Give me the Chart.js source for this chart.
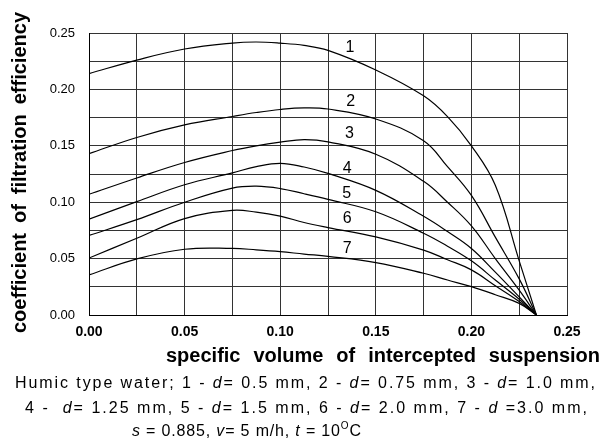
<!DOCTYPE html>
<html>
<head>
<meta charset="utf-8">
<title>Coefficient of filtration efficiency</title>
<script src="https://cdn.jsdelivr.net/npm/chart.js@4.4.1/dist/chart.umd.min.js"></script>
<style>
  html, body { margin: 0; padding: 0; background: #fff; }
  #wrap { width: 603px; height: 448px; }
</style>
</head>
<body>
<div id="wrap"><canvas id="chart" width="603" height="448"></canvas></div>
<script>
// specific volume of intercepted suspension (x)
const volume = [0, 0.025, 0.05, 0.075, 0.0875, 0.1, 0.1125, 0.125, 0.15, 0.175, 0.1875, 0.2, 0.2125, 0.225, 0.234];

// coefficient of filtration efficiency for curves 1..7
const curve1 = [0.214, 0.226, 0.2358, 0.2411, 0.242, 0.241, 0.239, 0.2346, 0.2172, 0.1943, 0.1759, 0.150, 0.115, 0.048, 0];
const curve2 = [0.143, 0.1574, 0.1685, 0.176, 0.1795, 0.1822, 0.1836, 0.1826, 0.1738, 0.1545, 0.1315, 0.106, 0.069, 0.032, 0];
const curve3 = [0.107, 0.1215, 0.1352, 0.1458, 0.150, 0.1532, 0.1555, 0.1535, 0.1425, 0.1185, 0.100, 0.079, 0.050, 0.022, 0];
const curve4 = [0.085, 0.1005, 0.1155, 0.126, 0.1315, 0.1345, 0.1312, 0.1255, 0.1105, 0.0875, 0.074, 0.059, 0.038, 0.016, 0];
const curve5 = [0.0705, 0.0845, 0.100, 0.1125, 0.1142, 0.1121, 0.1075, 0.1025, 0.0915, 0.0725, 0.061, 0.048, 0.031, 0.014, 0];
const curve6 = [0.0505, 0.068, 0.0855, 0.0928, 0.0912, 0.0876, 0.082, 0.0775, 0.0692, 0.0575, 0.049, 0.040, 0.026, 0.012, 0];
const curve7 = [0.0355, 0.0497, 0.0583, 0.059, 0.0578, 0.0562, 0.054, 0.052, 0.0465, 0.037, 0.031, 0.0251, 0.018, 0.0103, 0];

// curve numbers and where they sit (data coordinates)
const curveNames = ['1', '2', '3', '4', '5', '6', '7'];
const labelX = [0.1365, 0.1369, 0.1362, 0.1351, 0.1348, 0.1351, 0.1351];
const labelY = [0.2367, 0.1891, 0.1605, 0.1301, 0.1073, 0.0857, 0.0591];

// labelled ticks (grid every 0.025)
const tickValues = [0, 0.05, 0.10, 0.15, 0.20, 0.25];
const tickLabels = ['0.00', '0.05', '0.10', '0.15', '0.20', '0.25'];

const xTitle = 'specific volume of intercepted suspension';
const yTitle = 'coefficient of filtration efficiency';

const family = "'Liberation Sans', Arial, Helvetica, sans-serif";
Chart.defaults.font.family = family;
Chart.defaults.color = '#000';

const series = [curve1, curve2, curve3, curve4, curve5, curve6, curve7];

function tickText(value) {
  for (let i = 0; i < tickValues.length; i++) {
    if (Math.abs(value - tickValues[i]) < 1e-9) return tickLabels[i];
  }
  return '';
}

// stretch the gaps between words so the text spans a given width
function wordFit(ctx, text, x, y, width) {
  ctx.wordSpacing = '0px';
  const w0 = ctx.measureText(text).width;
  const gaps = text.split(' ').length - 1;
  ctx.wordSpacing = ((width - w0) / gaps) + 'px';
  ctx.fillText(text, x, y);
  ctx.wordSpacing = '0px';
}

// one caption line made of plain / italic / superscript pieces, tracked to a width
function richLine(ctx, segs, x, y, width, size) {
  const fontOf = seg => (seg.i ? 'italic ' : '') + (seg.sup ? Math.round(size * 0.65) : size) + 'px ' + family;
  let w0 = 0, n = 0;
  ctx.letterSpacing = '0px';
  segs.forEach(seg => {
    ctx.font = fontOf(seg);
    w0 += ctx.measureText(seg.t).width;
    n += seg.t.length;
  });
  const s = (width - w0) / (n - 1);
  ctx.letterSpacing = s + 'px';
  let cx = x;
  segs.forEach(seg => {
    ctx.font = fontOf(seg);
    ctx.fillText(seg.t, cx, seg.sup ? y - size * 0.42 : y);
    cx += ctx.measureText(seg.t).width;
  });
  ctx.letterSpacing = '0px';
}

const caption = [
  [{ t: 'Humic type water; 1 - ' }, { t: 'd', i: true }, { t: '= 0.5 mm, 2 - ' }, { t: 'd', i: true },
   { t: '= 0.75 mm, 3 - ' }, { t: 'd', i: true }, { t: '= 1.0 mm,' }],
  [{ t: '4 -  ' }, { t: 'd', i: true }, { t: '= 1.25 mm, 5 - ' }, { t: 'd', i: true }, { t: '= 1.5 mm, 6 - ' },
   { t: 'd', i: true }, { t: '= 2.0 mm, 7 - ' }, { t: 'd', i: true }, { t: ' =3.0 mm,' }],
  [{ t: 's', i: true }, { t: ' = 0.885, ' }, { t: 'v', i: true }, { t: '= 5 m/h, ' }, { t: 't', i: true },
   { t: ' = 10' }, { t: 'O', sup: true }, { t: 'C' }]
];

const textPlugin = {
  id: 'texts',
  afterDraw(chart) {
    const ctx = chart.ctx;
    const xs = chart.scales.x, ys = chart.scales.y;
    ctx.save();
    ctx.fillStyle = '#000';

    // curve numbers
    ctx.font = '16px ' + family;
    ctx.textAlign = 'center';
    ctx.textBaseline = 'middle';
    curveNames.forEach((name, i) => {
      ctx.fillText(name, xs.getPixelForValue(labelX[i]), ys.getPixelForValue(labelY[i]));
    });

    ctx.textAlign = 'left';
    ctx.textBaseline = 'alphabetic';

    // axis titles
    ctx.font = 'bold 20px ' + family;
    wordFit(ctx, xTitle, 166, 362, 434);
    ctx.save();
    ctx.translate(26, 333);
    ctx.rotate(-Math.PI / 2);
    wordFit(ctx, yTitle, 0, 0, 321);
    ctx.restore();

    // caption
    richLine(ctx, caption[0], 15, 388, 580, 16);
    richLine(ctx, caption[1], 25, 412.5, 562, 16);
    richLine(ctx, caption[2], 132, 436, 229, 16);
    ctx.restore();
  }
};

new Chart(document.getElementById('chart'), {
  type: 'line',
  data: {
    datasets: series.map((vals, i) => ({
      label: curveNames[i],
      data: vals.map((v, j) => ({ x: volume[j], y: v })),
      borderColor: '#000',
      borderWidth: 1.2,
      pointRadius: 0,
      fill: false,
      tension: 0.4
    }))
  },
  options: {
    responsive: false,
    animation: false,
    events: [],
    layout: {
      padding: { left: 0, top: 33, right: 36, bottom: 93 }
    },
    scales: {
      x: {
        type: 'linear',
        min: 0,
        max: 0.25,
        afterFit: scale => { scale.height = 40; },
        ticks: {
          stepSize: 0.025,
          autoSkip: false,
          maxRotation: 0,
          padding: 9,
          font: { size: 14, weight: 'bold' },
          callback: v => tickText(v)
        },
        grid: { color: '#333', lineWidth: 1, drawTicks: false },
        border: { color: '#000', width: 1 }
      },
      y: {
        min: 0,
        max: 0.25,
        afterFit: scale => { scale.width = 89; },
        ticks: {
          stepSize: 0.025,
          autoSkip: false,
          padding: 14,
          font: { size: 13 },
          callback: v => tickText(v)
        },
        grid: { color: '#333', lineWidth: 1, drawTicks: false },
        border: { color: '#000', width: 1 }
      }
    },
    plugins: {
      legend: { display: false },
      tooltip: { enabled: false }
    }
  },
  plugins: [textPlugin]
});
</script>
</body>
</html>
